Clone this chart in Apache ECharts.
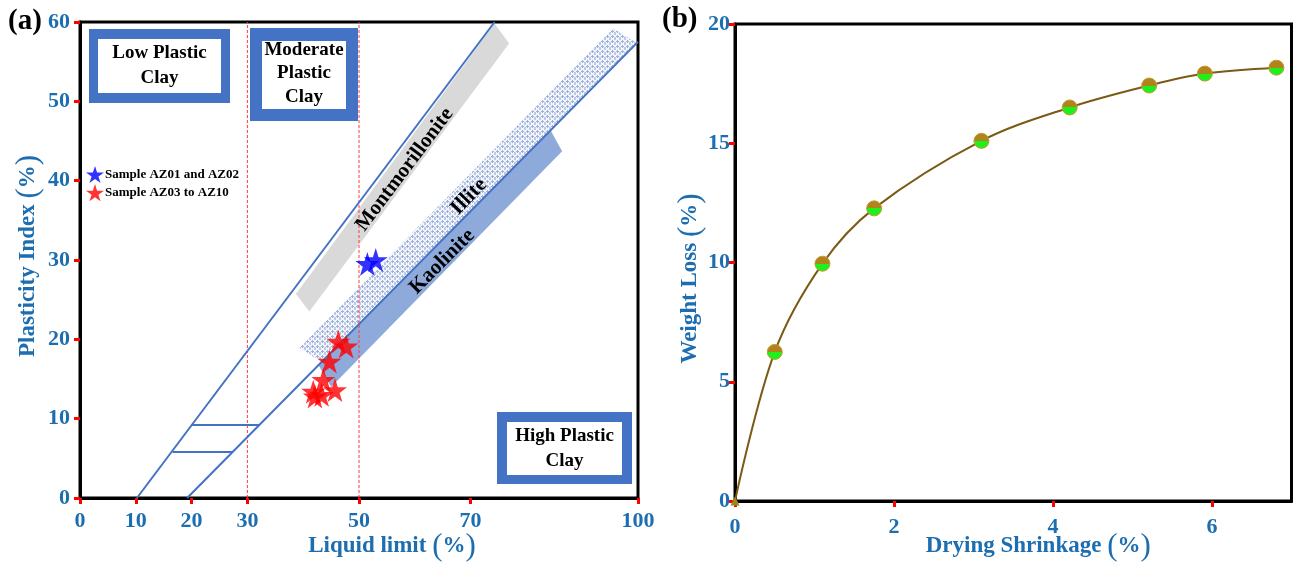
<!DOCTYPE html>
<html>
<head>
<meta charset="utf-8">
<script src="https://cdn.jsdelivr.net/npm/echarts@6/dist/echarts.min.js"></script>
<style>html,body{margin:0;padding:0;background:#fff;}#c{width:1296px;height:563px;}</style>
</head>
<body>
<div id="c"></div>
<script>
// ---------- Data: panel (a) plasticity chart ----------
const llTicks = [0, 10, 20, 30, 50, 70, 100];
const piTicks = [0, 10, 20, 30, 40, 50, 60];
const uLine = [[10.2, 0], [74.3, 60]];
const aLine = [[19.2, 0], [100, 57.5]];
const hLineUpper = [[20.0, 9.2], [32.1, 9.2]];
const hLineLower = [[16.6, 5.8], [27.3, 5.8]];
const montmorillonitePoly = [[74.3, 59.8], [76.9, 57.3], [41.1, 23.5], [38.7, 25.7]];
const illitePoly = [[95.5, 59.2], [99.7, 57.4], [43.3, 17.2], [39.3, 18.9]];
const kaolinitePoly = [[84.3, 46.4], [86.4, 43.7], [45.0, 14.0], [42.7, 16.8]];
const lowModerateLimit = [[30, 0], [30, 60]];
const moderateHighLimit = [[50, 0], [50, 60]];
const samplesAZ01_02 = [[51.5, 29.5], [53.0, 30.0]];
const samplesAZ03_10 = [[46.3, 19.7], [47.7, 19.1], [44.7, 17.2], [43.6, 14.9], [45.7, 13.6], [41.8, 13.4], [43.3, 13.0], [42.1, 12.8]];
const bandNames = ['Montmorillonite', 'Illite', 'Kaolinite'];
const bandLabelPos = [[58.2, 41.4], [69.7, 38.0], [64.9, 29.8]];
const bandLabelAngle = [53, 46, 45];
const legendNames = ['Sample AZ01 and AZ02', 'Sample AZ03 to AZ10'];

// ---------- Data: panel (b) drying shrinkage ----------
const dryingShrinkage = [0, 0.5, 1.1, 1.75, 3.1, 4.21, 5.21, 5.91, 6.81];
const weightLoss = [0, 6.25, 9.95, 12.27, 15.1, 16.5, 17.42, 17.92, 18.17];
const shrinkTicks = [0, 2, 4, 6];
const lossTicks = [0, 5, 10, 15, 20];

// ---------- Styles ----------
const SERIF = '"Liberation Serif","Times New Roman",serif';
const TICK_BLUE = '#1c6eb0';
const LINE_BLUE = '#4472C4';
const STAR = 'path://M50,0 L61.2,34.5 L97.6,34.5 L68.2,55.9 L79.4,90.5 L50,69.1 L20.6,90.5 L31.8,55.9 L2.4,34.5 L38.8,34.5 Z';

const chart = echarts.init(document.getElementById('c'), null, {renderer: 'canvas'});

// dotted pattern for Illite band
const pat = document.createElement('canvas');
pat.width = 5; pat.height = 5;
(function () {
  const g = pat.getContext('2d');
  g.fillStyle = '#f2f5fb'; g.fillRect(0, 0, 5, 5);
  g.fillStyle = '#9cb0d9';
  g.fillRect(2, 0, 1, 1); g.fillRect(1, 1, 3, 1); g.fillRect(2, 2, 1, 1);
  g.fillStyle = '#bccae6';
  g.fillRect(0, 3, 1, 2); g.fillRect(4, 3, 1, 2); g.fillRect(0, 2, 1, 1); g.fillRect(4, 2, 1, 1);
})();

const bandPolys = [montmorillonitePoly, illitePoly, kaolinitePoly];
const bandFills = ['#d9d9d9', {image: pat, repeat: 'repeat'}, '#8eaadb'];

const tickLabel = {color: TICK_BLUE, fontFamily: SERIF, fontWeight: 'bold', fontSize: 22};
const axisLine = {show: true, onZero: false, lineStyle: {color: '#000', width: 3}};
const redTick = {show: true, length: 6, lineStyle: {color: '#ff0000', width: 3}};
const nameRich = {
  t: {color: TICK_BLUE, fontFamily: SERIF, fontWeight: 'bold', fontSize: 23},
  p: {color: TICK_BLUE, fontFamily: SERIF, fontWeight: 'normal', fontSize: 31}
};
function axisName(txt) { return '{t|' + txt + ' }{p|(}{t|%}{p|)}'; }
const redDash = {color: '#ff3b3b', type: [3, 2], width: 1};

const option = {
  animation: false,
  backgroundColor: '#fff',
  grid: [
    {left: 80, top: 22, width: 558, height: 476, show: true, borderColor: '#000', borderWidth: 3, backgroundColor: 'transparent', containLabel: false, outerBoundsMode: 'none'},
    {left: 735, top: 24, width: 556.5, height: 477, show: true, borderColor: '#000', borderWidth: 3, backgroundColor: 'transparent', containLabel: false, outerBoundsMode: 'none'}
  ],
  xAxis: [
    {
      type: 'value', gridIndex: 0, min: 0, max: 100, interval: 10,
      axisLine: axisLine,
      axisTick: Object.assign({customValues: llTicks}, redTick),
      axisLabel: Object.assign({customValues: llTicks, margin: 12}, tickLabel),
      splitLine: {show: false},
      name: axisName('Liquid limit'), nameLocation: 'middle', nameGap: 33, nameMoveOverlap: false,
      nameTextStyle: {rich: nameRich, padding: [0, 0, 0, 66]}
    },
    {
      type: 'value', gridIndex: 1, min: 0, max: 7, interval: 1,
      axisLine: axisLine,
      axisTick: Object.assign({customValues: shrinkTicks}, redTick),
      axisLabel: Object.assign({customValues: shrinkTicks, margin: 15}, tickLabel),
      splitLine: {show: false},
      name: axisName('Drying Shrinkage'), nameLocation: 'middle', nameGap: 30, nameMoveOverlap: false,
      nameTextStyle: {rich: nameRich, padding: [0, 0, 0, 50]}
    }
  ],
  yAxis: [
    {
      type: 'value', gridIndex: 0, min: 0, max: 60, interval: 10,
      axisLine: axisLine,
      axisTick: Object.assign({customValues: piTicks}, redTick),
      axisLabel: Object.assign({customValues: piTicks, margin: 10}, tickLabel),
      splitLine: {show: false},
      name: axisName('Plasticity Index'), nameLocation: 'middle', nameGap: 36, nameMoveOverlap: false,
      nameTextStyle: {rich: nameRich, padding: [0, 0, 0, 8]}
    },
    {
      type: 'value', gridIndex: 1, min: 0, max: 20, interval: 5,
      axisLine: axisLine,
      axisTick: Object.assign({customValues: lossTicks}, redTick),
      axisLabel: Object.assign({customValues: lossTicks, margin: 5}, tickLabel),
      splitLine: {show: false},
      name: axisName('Weight Loss'), nameLocation: 'middle', nameGap: 29, nameMoveOverlap: false,
      nameTextStyle: {rich: nameRich, padding: [0, 32, 0, 0]}
    }
  ],
  legend: {
    orient: 'vertical', left: 81, top: 161, itemGap: 1, itemWidth: 18, itemHeight: 18,
    textStyle: {fontFamily: SERIF, fontWeight: 'bold', fontSize: 13, color: '#000', padding: [0, 0, 0, -4]},
    data: [{name: legendNames[0], icon: STAR}, {name: legendNames[1], icon: STAR}]
  },
  series: [
    {
      type: 'custom', xAxisIndex: 0, yAxisIndex: 0, z: 1, silent: true,
      data: bandPolys.map((p, i) => [i]),
      renderItem: function (params, api) {
        const i = params.dataIndex;
        const pts = bandPolys[i].map(p => api.coord(p));
        return {type: 'polygon', shape: {points: pts}, style: {fill: bandFills[i], stroke: null}};
      }
    },
    {type: 'line', xAxisIndex: 0, yAxisIndex: 0, z: 2, data: lowModerateLimit, symbol: 'none', silent: true, lineStyle: redDash},
    {type: 'line', xAxisIndex: 0, yAxisIndex: 0, z: 2, data: moderateHighLimit, symbol: 'none', silent: true, lineStyle: redDash},
    {type: 'line', xAxisIndex: 0, yAxisIndex: 0, z: 3, data: uLine, symbol: 'none', lineStyle: {color: LINE_BLUE, width: 2}},
    {type: 'line', xAxisIndex: 0, yAxisIndex: 0, z: 3, data: aLine, symbol: 'none', lineStyle: {color: LINE_BLUE, width: 2}},
    {type: 'line', xAxisIndex: 0, yAxisIndex: 0, z: 3, data: hLineUpper, symbol: 'none', lineStyle: {color: LINE_BLUE, width: 2}},
    {type: 'line', xAxisIndex: 0, yAxisIndex: 0, z: 3, data: hLineLower, symbol: 'none', lineStyle: {color: LINE_BLUE, width: 2}},
    {
      type: 'custom', xAxisIndex: 0, yAxisIndex: 0, z: 4, silent: true,
      data: bandLabelPos,
      renderItem: function (params, api) {
        const i = params.dataIndex;
        const c = api.coord([api.value(0), api.value(1)]);
        return {
          type: 'text', x: c[0], y: c[1], rotation: bandLabelAngle[i] * Math.PI / 180,
          style: {text: bandNames[i], fontFamily: SERIF, fontWeight: 'bold', fontSize: 21, fill: '#000', align: 'center', verticalAlign: 'middle'}
        };
      }
    },
    {name: legendNames[0], type: 'scatter', xAxisIndex: 0, yAxisIndex: 0, z: 5, symbol: STAR, symbolSize: 24, itemStyle: {color: '#0000ff'}, data: samplesAZ01_02},
    {name: legendNames[1], type: 'scatter', xAxisIndex: 0, yAxisIndex: 0, z: 5, symbol: STAR, symbolSize: 24, itemStyle: {color: '#ff0000'}, data: samplesAZ03_10},
    {
      type: 'line', xAxisIndex: 1, yAxisIndex: 1, z: 3, smooth: 0.35,
      lineStyle: {color: '#7a5a14', width: 2},
      symbol: 'circle', symbolSize: 15, showAllSymbol: true,
      itemStyle: {
        color: new echarts.graphic.LinearGradient(0, 0, 0, 1, [
          {offset: 0, color: '#b0841c'}, {offset: 0.5, color: '#b0841c'},
          {offset: 0.5, color: '#1ef01e'}, {offset: 1, color: '#1ef01e'}
        ]),
        borderColor: '#c59a30', borderWidth: 1
      },
      data: dryingShrinkage.map((x, i) => i === 0
        ? {value: [x, weightLoss[i]], symbol: 'triangle', symbolSize: 9, itemStyle: {color: '#9a8a1c', borderWidth: 0}}
        : [x, weightLoss[i]])
    }
  ],
  graphic: [
    {type: 'text', left: 8, top: 7, style: {text: '(a)', fontFamily: SERIF, fontWeight: 'bold', fontSize: 29, fill: '#000'}},
    {type: 'text', left: 662, top: 5, style: {text: '(b)', fontFamily: SERIF, fontWeight: 'bold', fontSize: 29, fill: '#000'}},
    // Low Plastic Clay box
    {type: 'rect', shape: {x: 89, y: 29, width: 141, height: 74}, style: {fill: LINE_BLUE}, z: 10},
    {type: 'rect', shape: {x: 98, y: 39, width: 123, height: 54}, style: {fill: '#fff'}, z: 11},
    {type: 'text', x: 159.5, y: 66, z: 12, style: {text: 'Low Plastic\nClay', fontFamily: SERIF, fontWeight: 'bold', fontSize: 19, lineHeight: 25, fill: '#000', align: 'center', verticalAlign: 'middle'}},
    // Moderate Plastic Clay box
    {type: 'rect', shape: {x: 250, y: 28, width: 108, height: 93}, style: {fill: LINE_BLUE}, z: 10},
    {type: 'rect', shape: {x: 262, y: 41, width: 84, height: 68}, style: {fill: '#fff'}, z: 11},
    {type: 'text', x: 304, y: 73.5, z: 12, style: {text: 'Moderate\nPlastic\nClay', fontFamily: SERIF, fontWeight: 'bold', fontSize: 19, lineHeight: 23.5, fill: '#000', align: 'center', verticalAlign: 'middle'}},
    // High Plastic Clay box
    {type: 'rect', shape: {x: 497, y: 412, width: 135, height: 72}, style: {fill: LINE_BLUE}, z: 10},
    {type: 'rect', shape: {x: 507, y: 422, width: 115, height: 53}, style: {fill: '#fff'}, z: 11},
    {type: 'text', x: 564.5, y: 448.5, z: 12, style: {text: 'High Plastic\nClay', fontFamily: SERIF, fontWeight: 'bold', fontSize: 19, lineHeight: 25, fill: '#000', align: 'center', verticalAlign: 'middle'}}
  ]
};
chart.setOption(option);
</script>
</body>
</html>
